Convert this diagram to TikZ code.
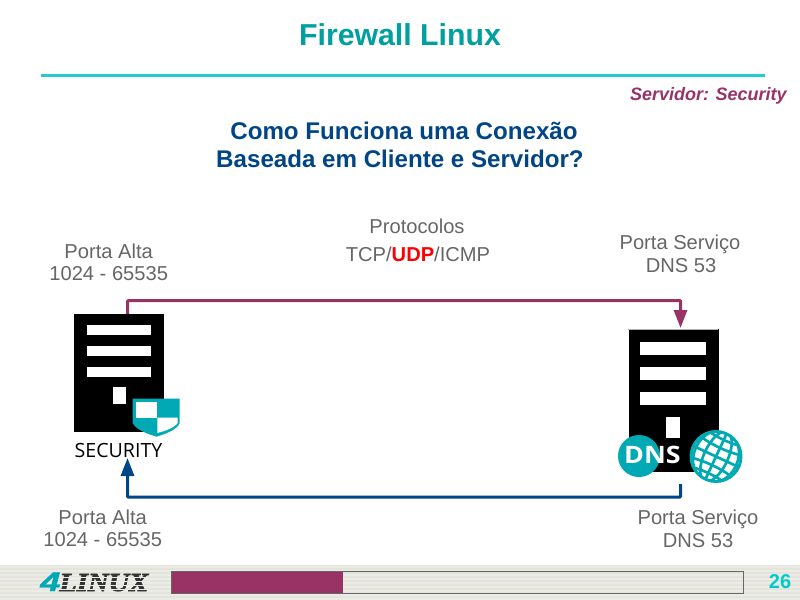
\documentclass[tikz,border=0pt]{standalone}
\usepackage{fontspec}
\setmainfont{Liberation Sans}
\newfontfamily\opensans{Open Sans}
\newfontfamily\logoserif[BoldItalicFeatures={FakeBold=2.5}]{Liberation Serif}
\newfontfamily\logofour[BoldItalicFeatures={FakeBold=1.5}]{Liberation Sans}
\usetikzlibrary{arrows.meta}
\definecolor{tealtitle}{HTML}{00A0A0}
\definecolor{rulecol}{HTML}{20CCD2}
\definecolor{magent}{HTML}{993366}
\definecolor{navy}{HTML}{004586}
\definecolor{graytext}{HTML}{666666}
\definecolor{iconteal}{HTML}{00A9B3}
\definecolor{pagenum}{HTML}{00CCCC}
\definecolor{footbg}{HTML}{E4E4DD}
\definecolor{footlight}{HTML}{ECECE6}
\tikzset{
  lbl/.style={font=\fontsize{15.1}{18}\selectfont, text=graytext, anchor=base, inner sep=0pt},
  heading/.style={font=\fontsize{18.1}{22}\selectfont\bfseries, text=navy, anchor=base, inner sep=0pt},
  srv/.style={fill=black, draw=none, inner sep=0pt, anchor=north west},
  slot/.style={fill=white, draw=none},
  conn/.style={line width=2.25pt, rounded corners=0.5pt},
  connTip/.style={-{Triangle[length=13.5pt,width=9.75pt]}},
}
\begin{document}
\begin{tikzpicture}[x=0.75pt,y=-0.75pt]
\useasboundingbox (0,0) rectangle (800,600);
\fill[white] (0,0) rectangle (800,600);

% header
\node[font=\fontsize{22.7}{27}\selectfont\bfseries, text=tealtitle, anchor=base, inner sep=0pt] (title) at (400,45) {Firewall Linux};
\coordinate (ruleL) at (41,75.5);
\coordinate (ruleR) at (765,75.5);
\draw[rulecol, line width=1.7pt] (ruleL) -- (ruleR);
\node[font=\fontsize{13.5}{16}\selectfont\bfseries\itshape, text=magent, anchor=base east, inner sep=0pt] (who) at (787,100) {Servidor: Security};
\node[heading] (h1) at (404,139) {Como Funciona uma Conexão};
\node[heading] (h2) at (400,167) {Baseada em Cliente e Servidor?};

% labels
\node[lbl] (p1) at (417,233) {Protocolos};
\node[lbl] (p2) at (418,261) {TCP/\textcolor{red}{\textbf{UDP}}/ICMP};
\node[lbl] (a1) at (108.7,258) {Porta Alta};
\node[lbl] (a2) at (108.7,280) {1024 - 65535};
\node[lbl] (s1) at (680,249) {Porta Serviço};
\node[lbl] (s2) at (681,272) {DNS 53};
\node[lbl] (a3) at (102.7,524) {Porta Alta};
\node[lbl] (a4) at (102.7,546) {1024 - 65535};
\node[lbl] (s3) at (698,524) {Porta Serviço};
\node[lbl] (s4) at (698,547) {DNS 53};

% security server
\node[srv, minimum width=67.5pt, minimum height=88.5pt] (sec) at (74,314) {};
\fill[slot] (87.3,325) rectangle (151,335);
\fill[slot] (87.3,346) rectangle (151,356);
\fill[slot] (87.3,366.5) rectangle (151,377);
\fill[slot] (112.5,386.7) rectangle (126,404);
% shield
\fill[iconteal] (132.7,398.7) -- (179.7,398.7) -- (179.7,423) .. controls (177,430) and (165,434) .. (156.5,436.7) .. controls (148,434) and (136,430) .. (132.7,423) -- cycle;
\fill[white] (136,401.7) rectangle (157.3,417.7);
\fill[white] (157.3,417.7) -- (177.7,417.7) -- (177.7,423) .. controls (174,428) and (165,431) .. (157.3,433) -- cycle;
\node[font=\fontsize{14.7}{16}\selectfont\opensans, text=black, anchor=base, inner sep=0pt] (seclabel) at (118.5,457) {SECURITY};

% dns server
\node[srv, minimum width=67.5pt, minimum height=107.5pt] (dns) at (628.3,328.5) {};
\draw[gray!60, line width=0.6pt] (628.3,329) -- (718.3,329);
\fill[slot] (640,341.7) rectangle (705.7,355);
\fill[slot] (640,366.7) rectangle (705.7,380);
\fill[slot] (640,392) rectangle (705.7,405.3);
\fill[slot] (666,416.7) rectangle (680,438.3);
\fill[iconteal] (639,456) circle (21);
\node[font=\fontsize{18}{20}\selectfont\opensans\bfseries, text=white, anchor=base, inner sep=0pt, xscale=1.12] (dnslabel) at (652.5,463.5) {DNS};
% globe
\begin{scope}
  \fill[white] (716,456.5) circle (26);
  \clip (716,456.5) circle (26);
  \begin{scope}[rotate around={-25:(716,456.5)}, iconteal, line width=2pt]
    \draw (716,456.5) ellipse [x radius=12, y radius=27];
    \draw (716,456.5) ellipse [x radius=22, y radius=27];
    \draw (716,428) -- (716,485);
    \draw (689,456.5) -- (743,456.5);
    \draw (690,444) .. controls (705,448) and (727,448) .. (742,444);
    \draw (690,469) .. controls (705,465) and (727,465) .. (742,469);
    \draw (695,436) .. controls (708,439) and (724,439) .. (737,436);
    \draw (695,477) .. controls (708,474) and (724,474) .. (737,477);
  \end{scope}
\end{scope}
\draw[iconteal, line width=2.2pt] (716,456.5) circle (25);

% connectors
\coordinate (secOut) at (127.7,314);
\coordinate (topL) at (127.7,300.5);
\coordinate (topR) at (680.5,300.5);
\coordinate (dnsIn) at (680.5,328);
\coordinate (dnsOut) at (680.5,484);
\coordinate (botR) at (680.5,497);
\coordinate (botL) at (127.5,497);
\coordinate (secIn) at (127.5,458);
\draw[conn, magent, connTip] (secOut) -- (topL) -- (topR) -- (dnsIn);
\draw[conn, navy, connTip] (dnsOut) -- (botR) -- (botL) -- (secIn);

% footer
\fill[footbg] (0,565) rectangle (800,600);
\foreach \yy in {566,570,...,598} {
  \fill[footlight] (0,\yy) rectangle (800,\yy+1.6);
}
\node[font=\fontsize{19.5}{22}\selectfont\logoserif\bfseries\itshape, text=black!80, anchor=base west, inner sep=0pt, xscale=1.1] (logo) at (59,591) {LINUX};
\foreach \yy in {577,581,585,589} {
  \fill[footlight] (58,\yy) rectangle (150,\yy+1);
}
\node[font=\fontsize{20}{22}\selectfont\logofour\bfseries\itshape, text=iconteal, anchor=base west, inner sep=0pt, xscale=1.35] (four) at (40,591) {4};
\fill[magent] (172,571.7) rectangle (343,593.3);
\draw[graytext, line width=0.9pt] (172,571.7) rectangle (743.5,593.3);
\fill[magent] (172,572) rectangle (343,593);
\node[font=\fontsize{15}{18}\selectfont\bfseries, text=pagenum, anchor=base, inner sep=0pt] (page) at (780,588) {26};
\end{tikzpicture}
\end{document}
